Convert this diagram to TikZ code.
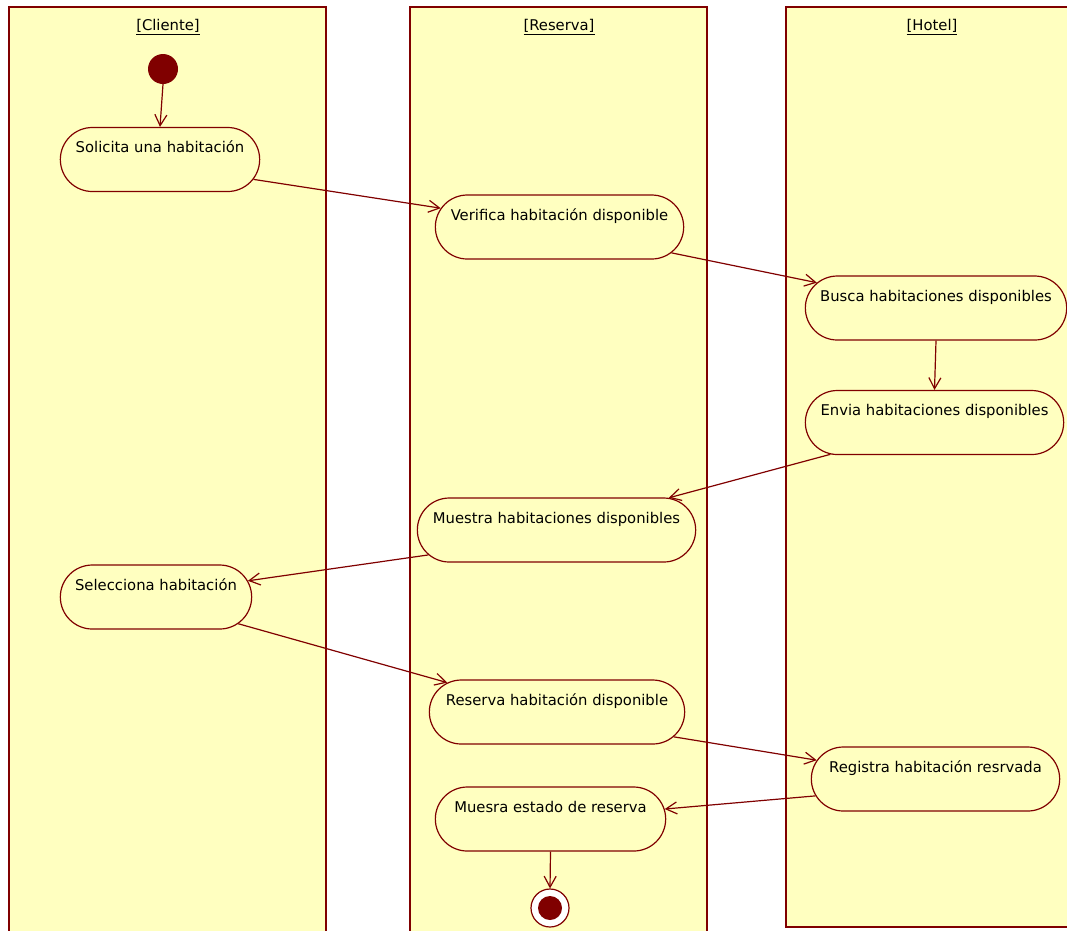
\documentclass[tikz,border=0pt]{standalone}
\usepackage{fontspec}
\setmainfont{DejaVu Sans}
\usetikzlibrary{shapes.misc,arrows.meta}
\definecolor{umlred}{HTML}{800000}
\definecolor{umlyellow}{HTML}{FFFFC0}
\begin{document}
\begin{tikzpicture}[x=1pt,y=-1pt,
    lane/.style={draw=umlred, fill=umlyellow, line width=1.1pt},
    act/.style={rounded rectangle, draw=umlred, fill=umlyellow, line width=1.2pt,
        minimum height=64pt, text height=13pt, text depth=27pt, inner ysep=12pt,
        font=\fontsize{14.8}{16}\selectfont},
    flow/.style={draw=umlred, line width=1.2pt, -{Straight Barb[length=11pt,width=12pt]}},
    lanehead/.style={font=\fontsize{14.8}{16}\selectfont}]
    \useasboundingbox (0,0) rectangle (1067,930);
    \clip (0,0) rectangle (1067,930);

    \draw[lane] (9,940) -- (9,7) -- (326,7) -- (326,940);
    \draw[lane] (410,940) -- (410,7) -- (707,7) -- (707,940);
    \draw[lane] (1080,927) -- (786,927) -- (786,7) -- (1080,7);

    \node[lanehead] (cliente) at (168,27) {\underline{[Cliente]}};
    \node[lanehead] (reserva) at (559,27) {\underline{[Reserva]}};
    \node[lanehead] (hotel) at (932,27) {\underline{[Hotel]}};

    \node[circle, fill=umlred, minimum size=30pt, inner sep=0pt] (start) at (163,69) {};
    \node[act, minimum width=206pt] (solicita) at (160,159.5) {Solicita una habitación};
    \node[act, minimum width=255pt] (verifica) at (559.5,227) {Verifica habitación disponible};
    \node[act, minimum width=268pt] (busca) at (936,308) {Busca habitaciones disponibles};
    \node[act, minimum width=265pt] (envia) at (934.5,422.5) {Envia habitaciones disponibles};
    \node[act, minimum width=285pt] (muestra) at (556.5,530) {Muestra habitaciones disponibles};
    \node[act, minimum width=198pt] (selecciona) at (156,597) {Selecciona habitación};
    \node[act, minimum width=262pt] (reservahab) at (557,712) {Reserva habitación disponible};
    \node[act, minimum width=255pt] (registra) at (935.5,779) {Registra habitación resrvada};
    \node[act, minimum width=237pt] (muesra) at (550.5,819) {Muesra estado de reserva};
    \node[circle, draw=umlred, fill=white, line width=1.2pt, minimum size=38pt, inner sep=0pt] (end) at (550,908) {};
    \node[circle, fill=umlred, minimum size=24pt, inner sep=0pt] (endin) at (end) {};

    \draw[flow] (start.south) -- (solicita.north);
    \draw[flow] (solicita.-12) -- (verifica.171);
    \draw[flow] (verifica.-13) -- (busca.168);
    \draw[flow] (busca.south) -- (envia.north);
    \draw[flow] (envia.197) -- (muestra.16);
    \draw[flow] (muestra.191) -- (selecciona.10);
    \draw[flow] (selecciona.-18) -- (reservahab.165);
    \draw[flow] (reservahab.-12) -- (registra.171);
    \draw[flow] (registra.188) -- (muesra.5);
    \draw[flow] (muesra.south) -- (end.north);
\end{tikzpicture}
\end{document}
